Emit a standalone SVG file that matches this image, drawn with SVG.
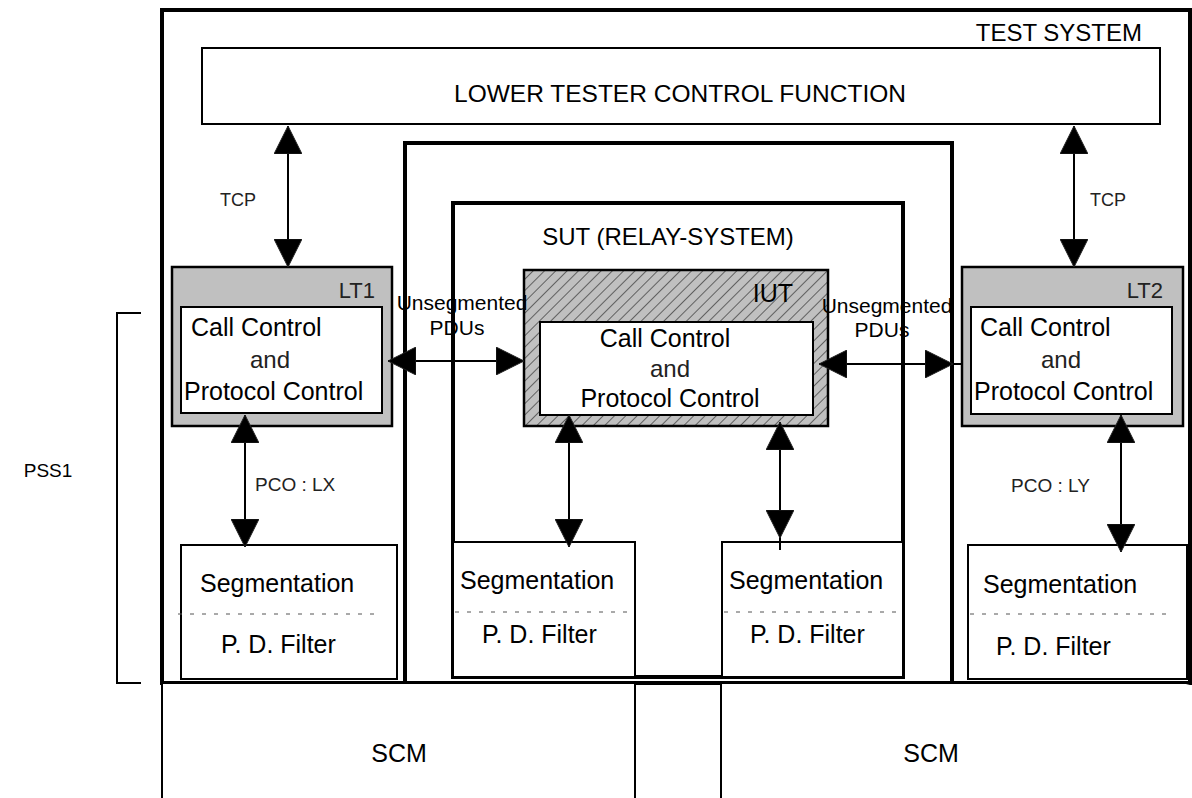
<svg xmlns="http://www.w3.org/2000/svg" width="1192" height="798" viewBox="0 0 1192 798">
<style>
.t{font-family:"Liberation Sans",Arial,sans-serif;fill:#000}
.l{font-family:"Liberation Sans",Arial,sans-serif;fill:#222}
.bx{fill:#fff;stroke:#000;stroke-width:2}
.thick{fill:none;stroke:#000;stroke-width:4}
.gray{fill:#c0c0c0;stroke:#000;stroke-width:2.5}
.dash{stroke:#555;stroke-width:1;stroke-dasharray:4 8}
.c{stroke:#000;stroke-width:2;fill:none}
</style>
<defs>
<marker id="ah" viewBox="0 0 28 28" refX="28" refY="14" markerWidth="28" markerHeight="28" markerUnits="userSpaceOnUse" orient="auto-start-reverse">
<path d="M0,0 L28,14 L0,28 z" fill="#000" stroke="#222" stroke-width="1"/>
</marker>
<pattern id="hatch" width="8" height="8" patternUnits="userSpaceOnUse" patternTransform="rotate(45)">
<rect width="8" height="8" fill="#c0c0c0"/>
<line x1="0" y1="0" x2="0" y2="8" stroke="#000" stroke-width="1"/>
</pattern>
</defs>
<rect width="1192" height="798" fill="#fff"/>

<g id="test-system">
<rect x="162" y="10" width="1028" height="673" class="thick"/>
<text x="1142" y="41" class="t" font-size="24" text-anchor="end">TEST SYSTEM</text>
</g>

<g id="ltcf">
<rect x="202" y="48" width="958" height="76" class="bx"/>
<text x="680" y="102" class="t" font-size="24.5" text-anchor="middle">LOWER TESTER CONTROL FUNCTION</text>
</g>

<g id="relay-outer">
<rect x="405" y="143" width="547" height="540" class="thick"/>
</g>

<g id="sut">
<rect x="453" y="203" width="450" height="474" class="thick"/>
<text x="668" y="245" class="t" font-size="24" text-anchor="middle">SUT (RELAY-SYSTEM)</text>
</g>

<g id="pss1">
<path d="M141,313 H117 V683 H141" class="c"/>
<text x="48" y="477" class="t" font-size="19" text-anchor="middle">PSS1</text>
</g>

<g id="lt1">
<rect x="172" y="267" width="220" height="159" class="gray"/>
<text x="375" y="298" class="l" font-size="22" text-anchor="end">LT1</text>
<rect x="181" y="307" width="201" height="106" class="bx"/>
<text x="191" y="336" class="t" font-size="25">Call Control</text>
<text x="270" y="368" class="l" font-size="24" text-anchor="middle">and</text>
<text x="184" y="400" class="t" font-size="25">Protocol Control</text>
</g>

<g id="iut">
<rect x="524" y="270" width="304" height="156" fill="url(#hatch)" stroke="#000" stroke-width="2.5"/>
<text x="773" y="302" class="t" font-size="25" text-anchor="middle">IUT</text>
<rect x="540" y="322" width="273" height="93" class="bx"/>
<text x="665" y="347" class="t" font-size="25" text-anchor="middle">Call Control</text>
<text x="670" y="377" class="l" font-size="24" text-anchor="middle">and</text>
<text x="670" y="407" class="t" font-size="25" text-anchor="middle">Protocol Control</text>
</g>

<g id="lt2">
<rect x="962" y="267" width="221" height="159" class="gray"/>
<text x="1163" y="298" class="l" font-size="22" text-anchor="end">LT2</text>
<rect x="971" y="307" width="201" height="107" class="bx"/>
<text x="980" y="336" class="t" font-size="25">Call Control</text>
<text x="1061" y="368" class="l" font-size="24" text-anchor="middle">and</text>
<text x="974" y="400" class="t" font-size="25">Protocol Control</text>
</g>

<g id="seg-lt1">
<rect x="181" y="545" width="216" height="134" class="bx"/>
<line x1="178" y1="614" x2="382" y2="614" class="dash"/>
<text x="200" y="592" class="t" font-size="25">Segmentation</text>
<text x="221" y="653" class="t" font-size="25">P. D. Filter</text>
</g>

<g id="seg-sut-left">
<rect x="453" y="542" width="182" height="135" class="bx"/>
<line x1="455" y1="612" x2="635" y2="612" class="dash"/>
<text x="460" y="589" class="t" font-size="25">Segmentation</text>
<text x="482" y="643" class="t" font-size="25">P. D. Filter</text>
</g>

<g id="seg-sut-right">
<rect x="722" y="542" width="181" height="135" class="bx"/>
<line x1="724" y1="612" x2="901" y2="612" class="dash"/>
<text x="729" y="589" class="t" font-size="25">Segmentation</text>
<text x="750" y="643" class="t" font-size="25">P. D. Filter</text>
</g>

<g id="seg-lt2">
<rect x="968" y="545" width="219" height="134" class="bx"/>
<line x1="970" y1="614" x2="1172" y2="614" class="dash"/>
<text x="983" y="593" class="t" font-size="25">Segmentation</text>
<text x="996" y="655" class="t" font-size="25">P. D. Filter</text>
</g>

<g id="scm-left">
<path d="M162,800 V683 H635 V800" class="bx"/>
<text x="399" y="762" class="t" font-size="25" text-anchor="middle">SCM</text>
</g>

<g id="scm-right">
<path d="M721,800 V683 H1194" class="bx"/>
<text x="931" y="762" class="t" font-size="25" text-anchor="middle">SCM</text>
</g>

<g id="connectors">
<line x1="288" y1="126" x2="288" y2="267" class="c" marker-start="url(#ah)" marker-end="url(#ah)"/>
<text x="238" y="206" class="l" font-size="18" text-anchor="middle">TCP</text>
<line x1="1074" y1="126" x2="1074" y2="267" class="c" marker-start="url(#ah)" marker-end="url(#ah)"/>
<text x="1108" y="206" class="l" font-size="18" text-anchor="middle">TCP</text>
<line x1="388" y1="361" x2="524" y2="361" class="c" marker-start="url(#ah)" marker-end="url(#ah)"/>
<text x="462" y="310" class="t" font-size="21" text-anchor="middle">Unsegmented</text>
<text x="457" y="335" class="t" font-size="21" text-anchor="middle">PDUs</text>
<line x1="819" y1="364" x2="953" y2="364" class="c" marker-start="url(#ah)" marker-end="url(#ah)"/>
<line x1="953" y1="364" x2="962" y2="364" class="c"/>
<text x="887" y="313" class="t" font-size="21" text-anchor="middle">Unsegmented</text>
<text x="882" y="337" class="t" font-size="21" text-anchor="middle">PDUs</text>
<line x1="245" y1="415" x2="245" y2="547" class="c" marker-start="url(#ah)" marker-end="url(#ah)"/>
<text x="255" y="491" class="l" font-size="19">PCO : LX</text>
<line x1="569" y1="415" x2="569" y2="547" class="c" marker-start="url(#ah)" marker-end="url(#ah)"/>
<line x1="780" y1="422" x2="780" y2="538" class="c" marker-start="url(#ah)" marker-end="url(#ah)"/>
<line x1="780" y1="538" x2="780" y2="550" class="c"/>
<line x1="1121" y1="415" x2="1121" y2="552" class="c" marker-start="url(#ah)" marker-end="url(#ah)"/>
<text x="1011" y="492" class="l" font-size="19">PCO : LY</text>
</g>
</svg>
